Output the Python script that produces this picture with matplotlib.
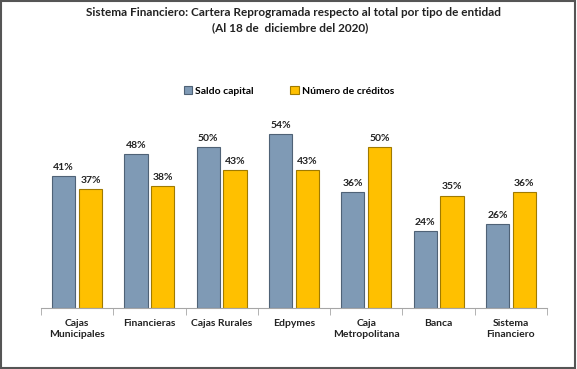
import matplotlib.pyplot as plt
from matplotlib.patches import Rectangle
import numpy as np

categorias = ['Cajas\nMunicipales', 'Financieras', 'Cajas Rurales', 'Edpymes',
              'Caja\nMetropolitana', 'Banca', 'Sistema\nFinanciero']
saldo_capital = [41, 48, 50, 54, 36, 24, 26]
num_creditos = [37, 38, 43, 43, 50, 35, 36]

plt.rcParams['font.family'] = ['Lato', 'DejaVu Sans']

fig = plt.figure(figsize=(5.77, 3.69), dpi=100)
ax = fig.add_axes([0.071, 0.165, 0.877, 0.523])

x = np.arange(len(categorias))
w = 0.32
b1 = ax.bar(x - 0.185, saldo_capital, w, color='#7F9AB5', edgecolor='#4F6276', linewidth=0.8,
            label='Saldo capital')
b2 = ax.bar(x + 0.185, num_creditos, w, color='#FFC000', edgecolor='#A07A00', linewidth=0.8,
            label='Número de créditos')

for bars in (b1, b2):
    for r in bars:
        ax.annotate(f'{r.get_height():.0f}%', (r.get_x() + r.get_width() / 2, r.get_height()),
                    xytext=(0, 3), textcoords='offset points', ha='center', va='bottom',
                    fontsize=7.5, fontweight='bold', color='#222222')

ax.set_xlim(-0.5, len(categorias) - 0.5)
ax.set_ylim(0, 60)
ax.set_yticks([])
for s in ['top', 'right', 'left']:
    ax.spines[s].set_visible(False)
ax.spines['bottom'].set_color('#A6A6A6')

ax.set_xticks(x)
ax.set_xticklabels(categorias, fontsize=7.5, fontweight='bold', color='#222222')
ax.tick_params(axis='x', length=0, pad=8)
ax.set_xticks(np.arange(-0.5, len(categorias)), minor=True)
ax.tick_params(axis='x', which='minor', length=5, color='#A6A6A6', direction='out')

ax.legend(loc='lower center', bbox_to_anchor=(0.49, 1.05), ncol=2, frameon=False,
          handlelength=0.8, handleheight=0.8, columnspacing=3.5,
          handletextpad=0.3, prop={'weight': 'bold', 'size': 7.5})

fig.text(0.508, 0.965, 'Sistema Financiero: Cartera Reprogramada respecto al total por tipo de entidad',
         ha='center', va='center', fontsize=8.5, fontweight='bold', color='#222222')
fig.text(0.503, 0.925, '(Al 18 de  diciembre del 2020)',
         ha='center', va='center', fontsize=8.5, fontweight='bold', color='#222222')

fig.patches.append(Rectangle((0.002, 0.003), 0.995, 0.994, transform=fig.transFigure,
                             fill=False, edgecolor='#555555', linewidth=1.5))

fig.savefig('out.png', dpi=100)
